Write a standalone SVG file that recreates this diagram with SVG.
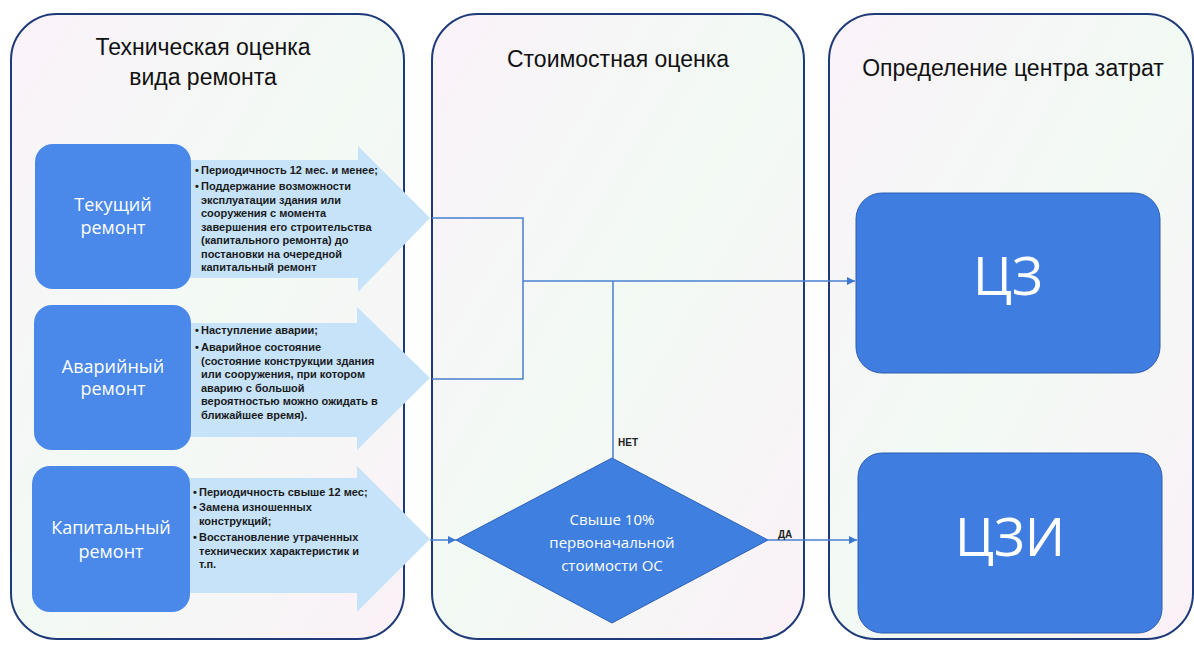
<svg xmlns="http://www.w3.org/2000/svg" width="1194" height="645" viewBox="0 0 1194 645">
<defs>
<marker id="ah" viewBox="0 0 10 10" refX="10" refY="5" markerWidth="8" markerHeight="8" markerUnits="userSpaceOnUse" orient="auto"><path d="M0,0 L10,5 L0,10 z" fill="#3f78d0"/></marker>
<linearGradient id="bg" x1="0" y1="0" x2="1" y2="1"><stop offset="0" stop-color="#fbf2fa"/><stop offset="0.5" stop-color="#f2faf4"/><stop offset="1" stop-color="#fbf1f8"/></linearGradient>
</defs>
<style>
.panel{fill:url(#bg);stroke:#1f3a78;stroke-width:2}
.title{font-family:"Liberation Sans",Arial,sans-serif;font-size:23px;fill:#111;text-anchor:middle}
.node{fill:#4a89ea}
.ntext{font-family:"Open Sans","Liberation Sans",sans-serif;font-size:18px;fill:#fff;text-anchor:middle}
.arrow{fill:#c6e3fa}
.bul{font-family:"Liberation Sans",Arial,sans-serif;font-size:11px;font-weight:bold;fill:#1a1a1a}
.conn{fill:none;stroke:#4a7fd0;stroke-width:1.5}
.big{fill:#3f7de0;stroke:#2f5fb0;stroke-width:1}
.btext{font-family:"Open Sans","Liberation Sans",sans-serif;font-size:53px;fill:#fff;text-anchor:middle}
.lab{font-family:"Liberation Sans",Arial,sans-serif;font-size:10px;font-weight:bold;fill:#222}
</style>
<rect width="1194" height="645" fill="#ffffff"/>
<g id="panel-tech">
<rect class="panel" x="11" y="14" width="393" height="625" rx="46"/>
<text class="title" x="203" y="55">Техническая оценка</text>
<text class="title" x="203" y="85">вида ремонта</text>
</g>
<g id="panel-cost">
<rect class="panel" x="432" y="14" width="372" height="625" rx="46"/>
<text class="title" x="618" y="67">Стоимостная оценка</text>
</g>
<g id="panel-center">
<rect class="panel" x="829" y="14" width="364" height="625" rx="46"/>
<text class="title" x="1013" y="76">Определение центра затрат</text>
</g>
<g id="arrow-1">
<polygon class="arrow" points="180,160 358,160 358,146 430,218 358,292 358,278 180,278"/>
<text class="bul"><tspan x="195" y="174">•</tspan><tspan x="201" y="174">Периодичность 12 мес. и менее;</tspan></text>
<text class="bul"><tspan x="195" y="190">•</tspan><tspan x="201" y="190">Поддержание возможности</tspan><tspan x="201" y="203.5">эксплуатации здания или</tspan><tspan x="201" y="217">сооружения с момента</tspan><tspan x="201" y="230.5">завершения его строительства</tspan><tspan x="201" y="244">(капитального ремонта) до</tspan><tspan x="201" y="257.5">постановки на очередной</tspan><tspan x="201" y="271">капитальный ремонт</tspan></text>
</g>
<g id="arrow-2">
<polygon class="arrow" points="180,323 357,323 357,307 430,378 357,450 357,437 180,437"/>
<text class="bul"><tspan x="195" y="334">•</tspan><tspan x="201" y="334">Наступление аварии;</tspan></text>
<text class="bul"><tspan x="195" y="351">•</tspan><tspan x="201" y="351">Аварийное состояние</tspan><tspan x="201" y="364.5">(состояние конструкции здания</tspan><tspan x="201" y="378">или сооружения, при котором</tspan><tspan x="201" y="391.5">аварию с большой</tspan><tspan x="201" y="405">вероятностью можно ожидать в</tspan><tspan x="201" y="418.5">ближайшее время).</tspan></text>
</g>
<g id="arrow-3">
<polygon class="arrow" points="180,478 357,478 357,466 430,539 357,612 357,593 180,593"/>
<text class="bul"><tspan x="193" y="496">•</tspan><tspan x="199" y="496">Периодичность свыше 12 мес;</tspan></text>
<text class="bul"><tspan x="193" y="511">•</tspan><tspan x="199" y="511">Замена изношенных</tspan><tspan x="199" y="524.5">конструкций;</tspan></text>
<text class="bul"><tspan x="193" y="541">•</tspan><tspan x="199" y="541">Восстановление утраченных</tspan><tspan x="199" y="554.5">технических характеристик и</tspan><tspan x="199" y="568">т.п.</tspan></text>
</g>
<g id="node-tekushchiy">
<rect class="node" x="35" y="144" width="156" height="145" rx="18"/>
<text class="ntext"><tspan x="113" y="211">Текущий</tspan><tspan x="113" y="234">ремонт</tspan></text>
</g>
<g id="node-avariyny">
<rect class="node" x="34" y="305" width="157" height="145" rx="18"/>
<text class="ntext"><tspan x="113" y="373">Аварийный</tspan><tspan x="113" y="395">ремонт</tspan></text>
</g>
<g id="node-kapitalny">
<rect class="node" x="32" y="466" width="158" height="146" rx="18"/>
<text class="ntext"><tspan x="111" y="534">Капитальный</tspan><tspan x="111" y="558">ремонт</tspan></text>
</g>
<g id="connectors">
<path class="conn" d="M432,218 H523 V379 H432"/>
<path class="conn" d="M523,281 H855" marker-end="url(#ah)"/>
<path class="conn" d="M613,281 V458"/>
<path class="conn" d="M430,540 H456" marker-end="url(#ah)"/>
<path class="conn" d="M768,540 H857" marker-end="url(#ah)"/>
<text class="lab" x="618" y="446">НЕТ</text>
<text class="lab" x="778" y="538">ДА</text>
</g>
<g id="node-decision">
<polygon points="612,458 768,540 612,623 456,540" fill="#3f7fe0" stroke="#2f62b8" stroke-width="1"/>
<text font-family="Open Sans, Liberation Sans, sans-serif" font-size="15" fill="#fff" text-anchor="middle"><tspan x="612" y="525">Свыше 10%</tspan><tspan x="612" y="548">первоначальной</tspan><tspan x="612" y="571">стоимости ОС</tspan></text>
</g>
<g id="node-cz">
<rect class="big" x="856" y="193" width="304" height="180" rx="26"/>
<text class="btext" x="1008" y="295">ЦЗ</text>
</g>
<g id="node-czi">
<rect class="big" x="858" y="453" width="304" height="180" rx="24"/>
<text class="btext" x="1010" y="556">ЦЗИ</text>
</g>
</svg>
